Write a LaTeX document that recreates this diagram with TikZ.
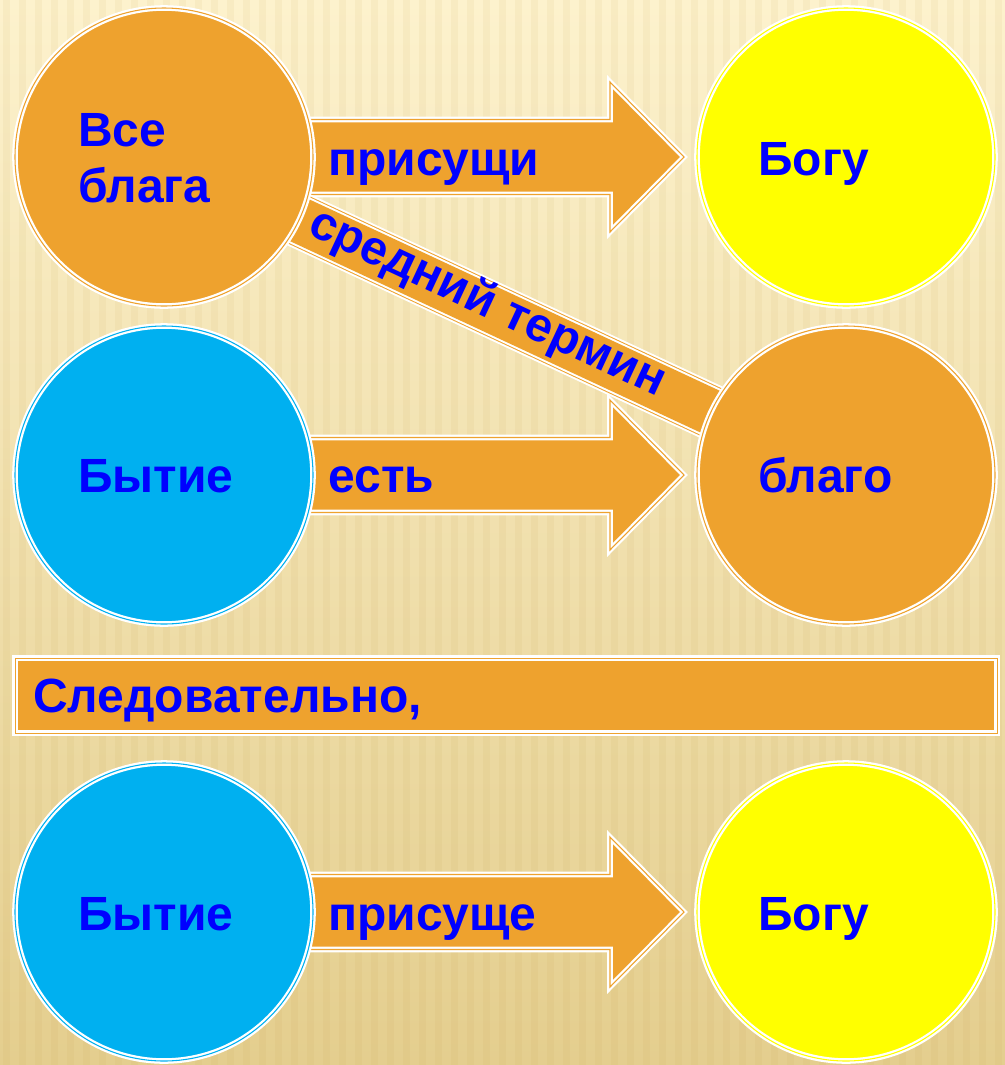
\documentclass[tikz,border=0pt]{standalone}
\usepackage{fontspec}
\setmainfont{Liberation Sans}
\usetikzlibrary{calc}
\definecolor{org}{RGB}{238,162,46}
\definecolor{sky}{RGB}{0,176,240}
\definecolor{yel}{RGB}{255,255,0}
\definecolor{txt}{RGB}{0,0,255}
\definecolor{bgtop}{RGB}{253,242,205}
\definecolor{bgbot}{RGB}{228,206,142}
\definecolor{stripe}{RGB}{190,150,60}
\begin{document}
\begin{tikzpicture}[x=0.75pt,y=-0.75pt,
  ring/.style={draw=white, line width=1.7pt, double distance=0.8pt},
  disc/.style={circle, inner sep=0pt, minimum size=223.5pt, ring, fill=#1, double=#1},
  lbl/.style={font=\bfseries\fontsize{36}{42}\selectfont, text=txt, inner sep=0pt, anchor=base west, align=left},
  blk/.style={fill=org, ring, double=org, line join=miter}]
% background
\shade[top color=bgtop, bottom color=bgbot] (0,0) rectangle (1005,1065);
\useasboundingbox (0,0) rectangle (1005,1065);
\foreach \i in {0,...,62} {
  \fill[stripe, opacity=0.07] (\i*16+3,0) rectangle (\i*16+10,1065);
}
% centres
\coordinate (c1) at (164,157);
\coordinate (c2) at (846,157);
\coordinate (c3) at (164,475);
\coordinate (c4) at (846,475);
\coordinate (c5) at (164,912);
\coordinate (c6) at (846,912);
% block arrows
\foreach \a in {c1,c3,c5} {
  \path[blk] ($(\a)+(126,-37.5)$) -- ($(\a)+(446,-37.5)$) -- ($(\a)+(446,-75)$)
    -- ($(\a)+(520,0)$) -- ($(\a)+(446,75)$) -- ($(\a)+(446,37.5)$)
    -- ($(\a)+(126,37.5)$) -- cycle;
}
% middle term band
\draw[white, line width=42pt] (c1) -- (c4);
\draw[org, line width=39pt] (c1) -- (c4);
\draw[white, line width=37.5pt] (c1) -- (c4);
\draw[org, line width=34.5pt] (c1) -- (c4);
\node[lbl, anchor=base, rotate=-25] (mid) at ($(c1)!0.457!(c4)+(6,13)$) {средний термин};
% circles
\node[disc=org] (n1) at (c1) {};
\node[disc=yel] (n2) at (c2) {};
\node[disc=sky] (n3) at (c3) {};
\node[disc=org] (n4) at (c4) {};
\node[disc=sky] (n5) at (c5) {};
\node[disc=yel] (n6) at (c6) {};
% conclusion box
\node[fill=org, ring, double=org, inner sep=0pt, minimum width=736.5pt, minimum height=56.25pt, anchor=north west] (concl) at (14,657) {};
% labels
\node[lbl, anchor=west] (t1) at (78,158) {Все\\блага};
\node[lbl] (t2) at (758,175) {Богу};
\node[lbl] (a1) at (328,175) {присущи};
\node[lbl] (t3) at (78,492) {Бытие};
\node[lbl] (a2) at (328,492) {есть};
\node[lbl] (t4) at (758,492) {благо};
\node[lbl] (t7) at (33,712) {Следовательно,};
\node[lbl] (t5) at (78,930) {Бытие};
\node[lbl] (a3) at (328,930) {присуще};
\node[lbl] (t6) at (758,930) {Богу};
\end{tikzpicture}
\end{document}
